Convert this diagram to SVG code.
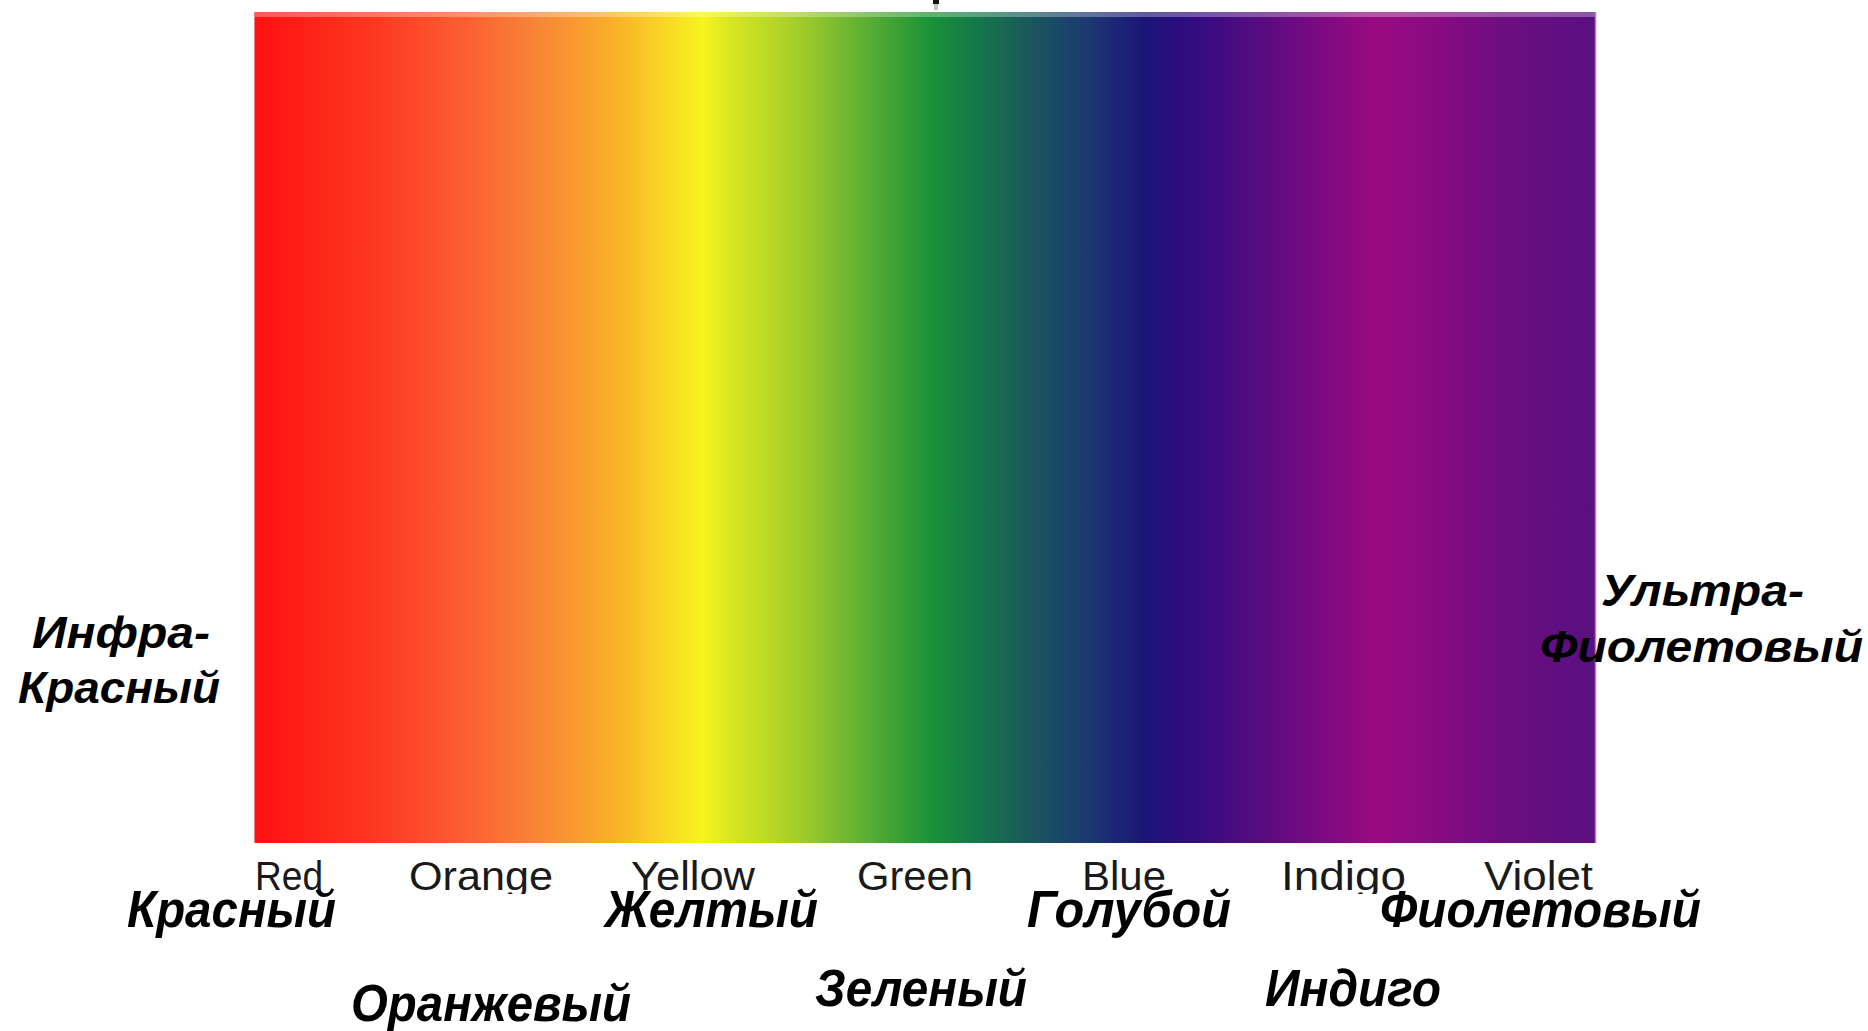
<svg xmlns="http://www.w3.org/2000/svg" width="1868" height="1031" viewBox="0 0 1868 1031">
<defs>
<linearGradient id="spec" x1="0" y1="0" x2="1" y2="0">
<stop offset="0" stop-color="#ff1010"/>
<stop offset="0.093" stop-color="#fc3a22"/>
<stop offset="0.157" stop-color="#fc5e32"/>
<stop offset="0.209" stop-color="#f88436"/>
<stop offset="0.266" stop-color="#f9ae2a"/>
<stop offset="0.305" stop-color="#f9d524"/>
<stop offset="0.334" stop-color="#f6f41e"/>
<stop offset="0.356" stop-color="#d8e620"/>
<stop offset="0.408" stop-color="#a0cc2a"/>
<stop offset="0.459" stop-color="#58ac34"/>
<stop offset="0.504" stop-color="#1a9238"/>
<stop offset="0.536" stop-color="#147a48"/>
<stop offset="0.574" stop-color="#1a5a5a"/>
<stop offset="0.619" stop-color="#1c3a70"/>
<stop offset="0.664" stop-color="#1c1478"/>
<stop offset="0.703" stop-color="#340c80"/>
<stop offset="0.754" stop-color="#5a0c80"/>
<stop offset="0.793" stop-color="#7a0a80"/>
<stop offset="0.835" stop-color="#9a0a80"/>
<stop offset="0.884" stop-color="#860c80"/>
<stop offset="0.928" stop-color="#6e0e80"/>
<stop offset="1" stop-color="#581080"/>
</linearGradient>
<clipPath id="engclip"><rect x="0" y="845" width="1868" height="49"/></clipPath>
</defs>
<style>
.en{font-family:"Liberation Sans",Arial,sans-serif;font-size:40px;fill:#1a1a1a}
.ru{font-family:"Liberation Sans",Arial,sans-serif;font-size:52px;font-weight:bold;font-style:italic;fill:#000}
.side{font-family:"Liberation Sans",Arial,sans-serif;font-size:44px;font-weight:bold;font-style:italic;fill:#000}
</style>
<rect width="1868" height="1031" fill="#ffffff"/>
<g id="spectrum">
<rect x="254" y="12" width="1342" height="831" fill="url(#spec)"/>
<rect x="254" y="12" width="1342" height="5" fill="#ffffff" opacity="0.3"/>
<line x1="254.5" y1="12" x2="254.5" y2="843" stroke="#f08080" stroke-width="1"/>
<line x1="1595.5" y1="12" x2="1595.5" y2="843" stroke="#b080c8" stroke-width="1.5"/>
<rect x="933" y="0" width="6" height="4" fill="#111111"/>
<rect x="934" y="4" width="4" height="6" fill="#888888" opacity="0.5"/>
</g>
<g id="english-labels" clip-path="url(#engclip)">
<text id="en-red" class="en" x="255" y="890" textLength="68" lengthAdjust="spacingAndGlyphs">Red</text>
<text id="en-orange" class="en" x="409" y="890" textLength="144" lengthAdjust="spacingAndGlyphs">Orange</text>
<text id="en-yellow" class="en" x="631" y="890" textLength="124" lengthAdjust="spacingAndGlyphs">Yellow</text>
<text id="en-green" class="en" x="857" y="890" textLength="116" lengthAdjust="spacingAndGlyphs">Green</text>
<text id="en-blue" class="en" x="1082" y="890" textLength="84" lengthAdjust="spacingAndGlyphs">Blue</text>
<text id="en-indigo" class="en" x="1281" y="890" textLength="125" lengthAdjust="spacingAndGlyphs">Indigo</text>
<text id="en-violet" class="en" x="1484" y="890" textLength="109" lengthAdjust="spacingAndGlyphs">Violet</text>
</g>
<g id="ru-red"><text class="ru" x="127" y="927" textLength="209" lengthAdjust="spacingAndGlyphs">Красный</text></g>
<g id="ru-yellow"><text class="ru" x="605" y="927" textLength="213" lengthAdjust="spacingAndGlyphs">Желтый</text></g>
<g id="ru-blue"><text class="ru" x="1027" y="927" textLength="204" lengthAdjust="spacingAndGlyphs">Голубой</text></g>
<g id="ru-violet"><text class="ru" x="1380" y="927" textLength="321" lengthAdjust="spacingAndGlyphs">Фиолетовый</text></g>
<g id="ru-orange"><text class="ru" x="351" y="1021" textLength="280" lengthAdjust="spacingAndGlyphs">Оранжевый</text></g>
<g id="ru-green"><text class="ru" x="815" y="1006" textLength="212" lengthAdjust="spacingAndGlyphs">Зеленый</text></g>
<g id="ru-indigo"><text class="ru" x="1265" y="1006" textLength="176" lengthAdjust="spacingAndGlyphs">Индиго</text></g>
<g id="infrared">
<text class="side" x="32" y="648" textLength="178" lengthAdjust="spacingAndGlyphs">Инфра-</text>
<text class="side" x="18" y="703" textLength="202" lengthAdjust="spacingAndGlyphs">Красный</text>
</g>
<g id="ultraviolet">
<text class="side" x="1601" y="606" textLength="203" lengthAdjust="spacingAndGlyphs">Ультра-</text>
<text class="side" x="1540" y="662" textLength="323" lengthAdjust="spacingAndGlyphs">Фиолетовый</text>
</g>
</svg>
